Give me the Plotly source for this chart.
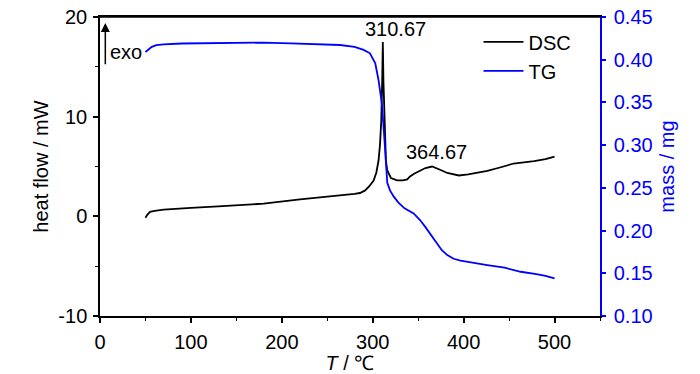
import plotly.graph_objects as go

# DSC curve (temperature in °C, heat flow in mW)
T_dsc = [50, 52, 55, 60, 70, 85, 100, 130, 180, 220, 250, 264, 280, 286, 291.7, 296, 301, 304,
         306.4, 308, 309.4, 310.4, 311.1, 311.8, 313, 314.5, 316, 317.5, 320, 326.7, 333, 338,
         341, 346, 352.4, 358, 365.3, 370, 376, 382, 388, 394.7, 405, 426, 440, 455, 477.5,
         490, 500]
heat_flow = [-0.15, 0.15, 0.45, 0.55, 0.67, 0.78, 0.85, 1.0, 1.27, 1.7, 1.95, 2.1, 2.25, 2.34,
             2.6, 3.0, 3.6, 4.4, 5.6, 7.2, 9.6, 13.5, 17.5, 13.5, 9.6, 5.6, 4.6, 4.3, 3.85, 3.6,
             3.6, 3.7, 4.0, 4.3, 4.6, 4.85, 5.0, 4.85, 4.6, 4.35, 4.2, 4.1, 4.2, 4.55, 4.9, 5.3,
             5.55, 5.75, 6.0]

# TG curve (temperature in °C, mass in mg)
T_tg = [50, 53, 57, 62, 70, 90, 120, 150, 180, 210, 240, 264, 280, 290, 297, 302.8, 306.4, 310,
        312.7, 314.5, 316, 319, 323, 328, 335, 345, 352, 358, 364, 370, 376, 382, 389, 396.6,
        410, 426, 445, 462.8, 480, 490, 500]
mass = [0.409, 0.412, 0.415, 0.417, 0.418, 0.419, 0.4195, 0.420, 0.420, 0.4192, 0.418, 0.4172,
        0.415, 0.4115, 0.4075, 0.3958, 0.376, 0.349, 0.310, 0.271, 0.256, 0.247, 0.240, 0.233,
        0.226, 0.220, 0.2123, 0.204, 0.195, 0.185, 0.177, 0.1713, 0.167, 0.1647, 0.162, 0.1596,
        0.1565, 0.1518, 0.149, 0.147, 0.144]

x_ticks = [0, 100, 200, 300, 400, 500]
y_ticks = [-10, 0, 10, 20]
y_ticklabels = ["-10", "0", "10", "20"]
y2_ticks = [0.10, 0.15, 0.20, 0.25, 0.30, 0.35, 0.40, 0.45]
y2_ticklabels = ["0.10", "0.15", "0.20", "0.25", "0.30", "0.35", "0.40", "0.45"]
peak_labels = ["310.67", "364.67"]

FONT = "Liberation Sans, Arial, sans-serif"
BLUE = "#0000FF"
FS = 20

fig = go.Figure()
fig.add_trace(go.Scatter(x=T_dsc, y=heat_flow, mode="lines", name="DSC",
                         line=dict(color="black", width=1.8)))
fig.add_trace(go.Scatter(x=T_tg, y=mass, mode="lines", name="TG", yaxis="y2",
                         line=dict(color=BLUE, width=1.8)))

fig.update_layout(
    width=700, height=374,
    margin=dict(l=100, r=100, t=17, b=58),
    plot_bgcolor="white", paper_bgcolor="white",
    font=dict(family=FONT, size=FS, color="black"),
    hovermode=False,
    showlegend=True,
    legend=dict(x=0.757, y=0.982, xanchor="left", yanchor="top",
                bgcolor="rgba(0,0,0,0)", font=dict(size=FS), tracegroupgap=0,
                itemwidth=40),
    xaxis=dict(range=[0, 550], tickvals=x_ticks, automargin=False,
               showline=True, linecolor="black", linewidth=1.5, mirror=True,
               ticks="outside", ticklen=5, tickwidth=1.5, tickcolor="black",
               ticklabelstandoff=2, ticklabeloverflow="allow",
               minor=dict(dtick=50, ticks="outside", ticklen=3, tickwidth=1.2, tickcolor="black"),
               showgrid=False, zeroline=False,
               title=dict(text="<i>T</i> / ℃", standoff=0, font=dict(size=FS))),
    yaxis=dict(range=[-10, 20], tickvals=y_ticks, ticktext=y_ticklabels, automargin=False,
               showline=True, linecolor="black", linewidth=1.5,
               ticks="outside", ticklen=5, tickwidth=1.5, tickcolor="black",
               ticklabelstandoff=2, ticklabeloverflow="allow",
               minor=dict(dtick=5, ticks="outside", ticklen=3, tickwidth=1.2, tickcolor="black"),
               showgrid=False, zeroline=False,
               title=dict(text="heat flow / mW", standoff=4, font=dict(size=FS))),
    yaxis2=dict(range=[0.10, 0.45], tickvals=y2_ticks, ticktext=y2_ticklabels,
                overlaying="y", side="right", anchor="x", automargin=False,
                showline=True, linecolor=BLUE, linewidth=1.5,
                ticks="outside", ticklen=4, tickwidth=1.5, tickcolor=BLUE,
                ticklabelstandoff=4, ticklabeloverflow="allow",
                tickfont=dict(color=BLUE, size=FS),
                showgrid=False, zeroline=False,
                title=dict(text="mass / mg", standoff=8, font=dict(color=BLUE, size=FS))),
)

# top frame line
fig.add_shape(type="line", xref="paper", yref="paper", x0=0, x1=1, y0=1, y1=1,
              line=dict(color="black", width=1.5), layer="above")

# peak labels
fig.add_annotation(x=325, y=18.75, text=peak_labels[0], showarrow=False,
                   xanchor="center", yanchor="middle", font=dict(size=FS))
fig.add_annotation(x=370, y=6.47, text=peak_labels[1], showarrow=False,
                   xanchor="center", yanchor="middle", font=dict(size=FS))
# exo arrow and label
fig.add_annotation(x=5.85, y=19.4, ax=5.85, ay=15.1, axref="x", ayref="y", text="",
                   showarrow=True, arrowhead=2, arrowsize=1.2, arrowwidth=1.5, arrowcolor="black")
fig.add_annotation(x=28.5, y=16.5, text="exo", showarrow=False,
                   xanchor="center", yanchor="middle", font=dict(size=FS))

fig.write_html("out.html", config={"displayModeBar": False},
               post_script="document.body.style.margin='0px';")
